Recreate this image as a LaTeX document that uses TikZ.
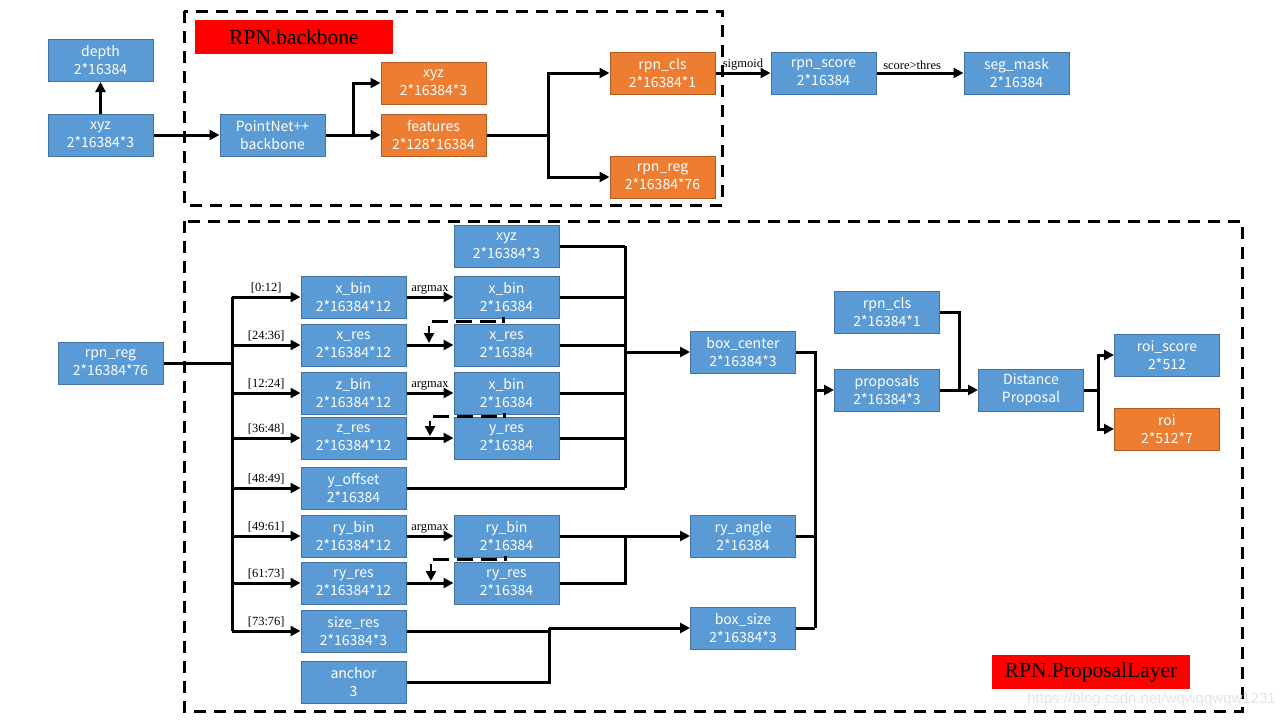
\documentclass[tikz,border=0pt]{standalone}
\usepackage{fontspec}
\setmainfont{Liberation Serif}
\newfontfamily\boxfont{Noto Sans CJK SC}
\newfontfamily\wmfont{Liberation Sans}
\usetikzlibrary{arrows.meta}
\definecolor{bfill}{HTML}{5B9BD5}
\definecolor{bdraw}{HTML}{41719C}
\definecolor{ofill}{HTML}{ED7D31}
\definecolor{odraw}{HTML}{AE5A21}
\begin{document}
\begin{tikzpicture}[x=1pt,y=-1pt,
  bbox/.style={draw=bdraw, fill=bfill, line width=1pt, minimum width=105pt, minimum height=42pt, inner sep=0pt, align=center, text=white, font=\boxfont\fontsize{14}{18}\selectfont},
  obox/.style={bbox, draw=odraw, fill=ofill},
  conn/.style={line width=3pt, -{Triangle[length=10pt,width=10pt]}},
  wire/.style={line width=3pt},
  lbl/.style={font=\fontsize{12.5}{14}\selectfont, inner sep=1.5pt},
  region/.style={draw, line width=3pt, dash pattern=on 12pt off 8pt},
  hint/.style={line width=3pt, dash pattern=on 16pt off 8pt},
  tag/.style={fill=red, text=black, font=\fontsize{21.5}{24}\selectfont, inner sep=0pt, minimum width=198pt, minimum height=34pt}]
\useasboundingbox (0,0) rectangle (1280,720);

% regions
\draw[region] (184,11) rectangle (722,205);
\draw[region] (184,221) rectangle (1242,711);
\node[tag] (tagb) at (294,37) {RPN.backbone};
\node[tag] (tagp) at (1091,672) {RPN.ProposalLayer};

% top row
\node[bbox] (depth) at (100.5,60.5) {depth\\2*16384};
\node[bbox] (xyz) at (100.5,135) {xyz\\2*16384*3};
\node[bbox] (pn) at (272.5,135) {PointNet++\\backbone};
\node[obox] (oxyz) at (433.5,83) {xyz\\2*16384*3};
\node[obox] (feat) at (433.5,135) {features\\2*128*16384};
\node[obox] (rcls) at (662.5,73) {rpn\_cls\\2*16384*1};
\node[obox] (rreg) at (662.5,177) {rpn\_reg\\2*16384*76};
\node[bbox] (rscore) at (823.5,73) {rpn\_score\\2*16384};
\node[bbox] (seg) at (1016.5,73) {seg\_mask\\2*16384};

\draw[conn] (xyz.north) -- (depth.south);
\draw[conn] (xyz.east) -- (pn.west);
\draw[conn] (pn.east) -- (feat.west);
\coordinate (pb) at (353,135);
\draw[conn] (pb) |- (oxyz.west);
\coordinate (fb) at (548,135);
\draw[wire] (feat.east) -- (fb);
\draw[conn] (fb) |- (rcls.west);
\draw[conn] (fb) |- (rreg.west);
\draw[conn] (rcls.east) -- (rscore.west) node[lbl, midway, above] {sigmoid};
\draw[conn] (rscore.east) -- (seg.west) node[lbl, pos=0.41, above] {score>thres};

% proposal layer
\node[bbox] (preg) at (110.5,363) {rpn\_reg\\2*16384*76};
\node[bbox] (lxbin) at (353.5,297) {x\_bin\\2*16384*12};
\node[bbox] (lxres) at (353.5,345) {x\_res\\2*16384*12};
\node[bbox] (lzbin) at (353.5,393) {z\_bin\\2*16384*12};
\node[bbox] (lzres) at (353.5,438) {z\_res\\2*16384*12};
\node[bbox] (yoff) at (353.5,488) {y\_offset\\2*16384};
\node[bbox] (lrybin) at (353.5,536) {ry\_bin\\2*16384*12};
\node[bbox] (lryres) at (353.5,583) {ry\_res\\2*16384*12};
\node[bbox] (sres) at (353.5,631) {size\_res\\2*16384*3};
\node[bbox] (anchor) at (353.5,682) {anchor\\3};

\node[bbox] (rxyz) at (506.5,246) {xyz\\2*16384*3};
\node[bbox] (rxbin) at (506.5,297) {x\_bin\\2*16384};
\node[bbox] (rxres) at (506.5,345) {x\_res\\2*16384};
\node[bbox] (rzbin) at (506.5,393) {x\_bin\\2*16384};
\node[bbox] (ryres) at (506.5,438) {y\_res\\2*16384};
\node[bbox] (rrybin) at (506.5,536) {ry\_bin\\2*16384};
\node[bbox] (rryres) at (506.5,583) {ry\_res\\2*16384};

\node[bbox] (bc) at (743,352) {box\_center\\2*16384*3};
\node[bbox] (rya) at (743,536) {ry\_angle\\2*16384};
\node[bbox] (bs) at (743,628) {box\_size\\2*16384*3};
\node[bbox] (pcls) at (887,312) {rpn\_cls\\2*16384*1};
\node[bbox] (prop) at (887,390) {proposals\\2*16384*3};
\node[bbox] (dist) at (1031,390) {Distance\\Proposal};
\node[bbox] (rscr) at (1167,355) {roi\_score\\2*512};
\node[obox] (roi) at (1167,429) {roi\\2*512*7};

% left bus
\coordinate (lb) at (232,363);
\coordinate (lbt) at (232,297);
\coordinate (lbb) at (232,631);
\draw[wire] (preg.east) -- (lb);
\draw[wire] (lbt) -- (lbb);
\foreach \n/\t in {lxbin/{[0:12]}, lxres/{[24:36]}, lzbin/{[12:24]}, lzres/{[36:48]}, yoff/{[48:49]}, lrybin/{[49:61]}, lryres/{[61:73]}, sres/{[73:76]}}{
  \draw[conn] (lbt |- \n.west) -- (\n.west) node[lbl, midway, above, yshift=1pt] {\t};
}

% bin / res arrows
\draw[conn] (lxbin.east) -- (rxbin.west) node[lbl, midway, above] {argmax};
\draw[conn] (lxres.east) -- (rxres.west);
\draw[conn] (lzbin.east) -- (rzbin.west) node[lbl, midway, above] {argmax};
\draw[conn] (lzres.east) -- (ryres.west);
\draw[conn] (lrybin.east) -- (rrybin.west) node[lbl, midway, above] {argmax};
\draw[conn] (lryres.east) -- (rryres.west);

% dashed hints
\draw[hint] (432,321) -- (503,321);
\draw[line width=3pt] (503,322.5) -- (503,317);
\coordinate (d1s) at (429,326);
\draw[conn, line width=2.5pt] (d1s) -- (429,343);
\draw[hint] (433,416) -- (504,416);
\draw[line width=3pt] (504,417.5) -- (504,413);
\coordinate (d2s) at (430,421);
\draw[conn, line width=2.5pt] (d2s) -- (430,436);
\draw[hint] (433,559) -- (505,559);
\draw[line width=3pt] (505,560.5) -- (505,556);
\coordinate (d3s) at (431,564);
\draw[conn, line width=2.5pt] (d3s) -- (431,581);

% right bus into box_center
\coordinate (rbt) at (625,246);
\coordinate (rbb) at (625,488);
\draw[wire] (rxyz.east) -- (rbt);
\draw[wire] (rbt) -- (rbb);
\foreach \n in {rxbin, rxres, rzbin, ryres}{
  \draw[wire] (\n.east) -- (rbt |- \n.east);
}
\draw[wire] (yoff.east) -- (rbb);
\draw[conn] (rbt |- bc.west) -- (bc.west);

% ry bus
\coordinate (ryb) at (625,536);
\draw[conn] (rrybin.east) -- (rya.west);
\draw[wire] (rryres.east) -| (ryb);

% size
\coordinate (sb) at (549,631);
\coordinate (sbt) at (549,628);
\draw[wire] (sres.east) -- (sb);
\draw[wire] (anchor.east) -| (sbt);
\draw[conn] (sbt) -- (bs.west);

% box bus
\coordinate (bbt) at (815,352);
\coordinate (bbb) at (815,628);
\draw[wire] (bc.east) -- (bbt) -- (bbb);
\draw[wire] (rya.east) -- (rya.east -| bbt);
\draw[wire] (bs.east) -- (bbb);
\draw[conn] (bbt |- prop.west) -- (prop.west);

% into distance
\coordinate (cb) at (959,390);
\draw[wire] (pcls.east) -| (cb);
\draw[wire] (prop.east) -- (cb);
\draw[conn] (cb) -- (dist.west);

% out of distance
\coordinate (ob) at (1098,390);
\draw[wire] (dist.east) -- (ob);
\draw[conn] (ob) |- (rscr.west);
\draw[conn] (ob) |- (roi.west);

% watermark
\node[text=gray!22, font=\wmfont\fontsize{15}{18}\selectfont, anchor=east, inner sep=0pt] (wm) at (1276,700) {https://blog.csdn.net/wqwqqwqw1231};
\end{tikzpicture}
\end{document}
